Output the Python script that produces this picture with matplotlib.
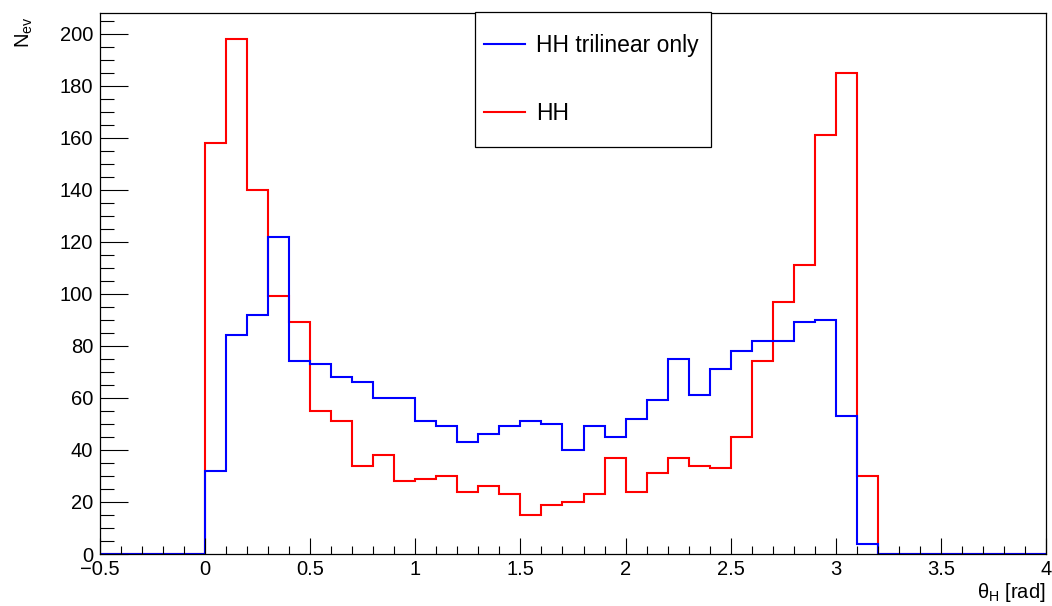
import matplotlib
matplotlib.use("Agg")
import matplotlib.pyplot as plt
from matplotlib.ticker import MultipleLocator
from matplotlib.patches import Rectangle
import numpy as np

plt.rcParams['font.family'] = ['Liberation Sans', 'DejaVu Sans']
plt.rcParams['mathtext.default'] = 'regular'

# 45 bins of width 0.1 from -0.5 to 4
edges = np.round(np.arange(-0.5, 4.0001, 0.1), 2)

# bin contents from 0.0 to 3.2 (bins outside are empty)
hh_core = [158, 198, 140, 99, 89, 55, 51, 34, 38, 28,
           29, 30, 24, 26, 23, 15, 19, 20, 23, 37,
           24, 31, 37, 34, 33, 45, 74, 97, 111, 161,
           185, 30]
tri_core = [32, 84, 92, 122, 74, 73, 68, 66, 60, 60,
            51, 49, 43, 46, 49, 51, 50, 40, 49, 45,
            52, 59, 75, 61, 71, 78, 82, 82, 89, 90,
            53, 4]
pad_lo = [0] * 5
pad_hi = [0] * 8
hh = np.array(pad_lo + hh_core + pad_hi)
trilinear = np.array(pad_lo + tri_core + pad_hi)

W, H = 1052, 606
fig = plt.figure(figsize=(W / 100, H / 100), dpi=100)
ax = fig.add_axes([100 / W, (H - 554) / H, 946 / W, 541 / H])

ax.stairs(hh, edges, color='red', lw=1.5, label='HH')
ax.stairs(trilinear, edges, color='blue', lw=1.5, label='HH trilinear only')

ax.set_xlim(-0.5, 4)
ax.set_ylim(0, 1.05 * max(hh.max(), trilinear.max()))

ax.xaxis.set_major_locator(MultipleLocator(0.5))
ax.xaxis.set_minor_locator(MultipleLocator(0.1))
ax.yaxis.set_major_locator(MultipleLocator(20))
ax.yaxis.set_minor_locator(MultipleLocator(5))
ax.tick_params(axis='x', which='major', direction='in', length=11.5, width=0.8, labelsize=14.5, pad=4)
ax.tick_params(axis='x', which='minor', direction='in', length=5.8, width=0.8)
ax.tick_params(axis='y', which='major', direction='in', length=20, width=0.8, labelsize=14.5, pad=5)
ax.tick_params(axis='y', which='minor', direction='in', length=10, width=0.8)
ax.xaxis.set_major_formatter(plt.FuncFormatter(lambda v, p: ('%g' % v).replace('-', '\u2212')))
for s in ax.spines.values():
    s.set_linewidth(0.9)

fig.text(1046 / W, 1 - 592 / H, 'θ$_{H}$ [rad]', ha='right', va='center', fontsize=14.5)
fig.text(24 / W, 1 - 32 / H, 'N$_{ev}$', rotation=90, ha='center', va='center', fontsize=14.5)

# legend box like ROOT's TLegend
box = (475 / W, 1 - 147 / H, 236 / W, 135 / H)
frame = Rectangle(box[:2], box[2], box[3], transform=fig.transFigure,
                  facecolor='white', edgecolor='black', lw=0.9, zorder=9)
fig.patches.append(frame)
handles, labels = ax.get_legend_handles_labels()
leg = fig.legend(handles[::-1], labels[::-1], loc='center left',
                 bbox_to_anchor=box, bbox_transform=fig.transFigure,
                 fontsize=16.5, frameon=False,
                 handlelength=1.8, handletextpad=0.45, labelspacing=2.0,
                 borderpad=0.4, borderaxespad=0)
leg.set_zorder(10)

fig.savefig('out.png', dpi=100)
